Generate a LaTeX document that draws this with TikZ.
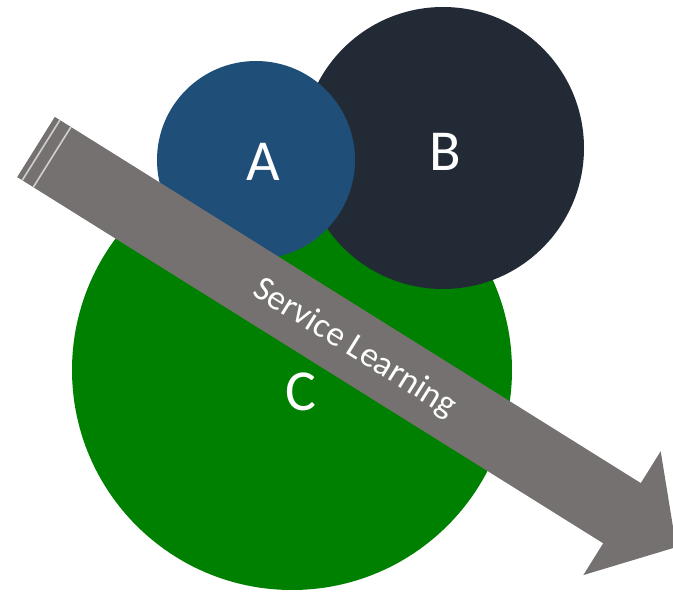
\documentclass[tikz,border=0pt]{standalone}
\usepackage{fontspec}
\setmainfont{Carlito}
\definecolor{bleuA}{HTML}{1F4E79}
\definecolor{noirB}{HTML}{222A35}
\definecolor{vertC}{HTML}{008000}
\definecolor{grisF}{HTML}{767171}
\definecolor{rayure}{HTML}{D0CECE}

\begin{document}
\begin{tikzpicture}[x=1pt,y=-1pt,
    disque/.style={circle,inner sep=0pt,outer sep=0pt},
    lettre/.style={text=white,font=\fontsize{58}{60}\selectfont}]
    \useasboundingbox (0,0) rectangle (673,592);
    \clip (0,0) rectangle (673,592);

    % Cercles (C dessous, puis B, puis A)
    \node[disque,fill=vertC,minimum size=440pt] (C) at (292,370) {};
    \node[disque,fill=noirB,minimum size=282pt] (B) at (443,148) {};
    \node[disque,fill=bleuA,minimum size=198pt] (A) at (256,160) {};

    % Lettres
    \node[lettre] (lA) at (263,162) {A};
    \node[lettre] (lB) at (445,152) {B};
    \node[lettre] (lC) at (301,392) {C};

    % Fleche rayee
    \begin{scope}[shift={(36,147)},rotate=-32]
        \fill[grisF] (0,-35.5) -- (691,-35.5) -- (691,-73) -- (755,0)
            -- (691,73) -- (691,35.5) -- (0,35.5) -- cycle;
        \foreach \t in {6,19} {
            \draw[rayure,line width=1.6pt] (\t,-35.5) -- (\t,35.5);
        }
        \node[text=white,font=\fontsize{35}{37}\selectfont,transform shape]
            (SL) at (377,2) {Service Learning};
    \end{scope}

\end{tikzpicture}
\end{document}
